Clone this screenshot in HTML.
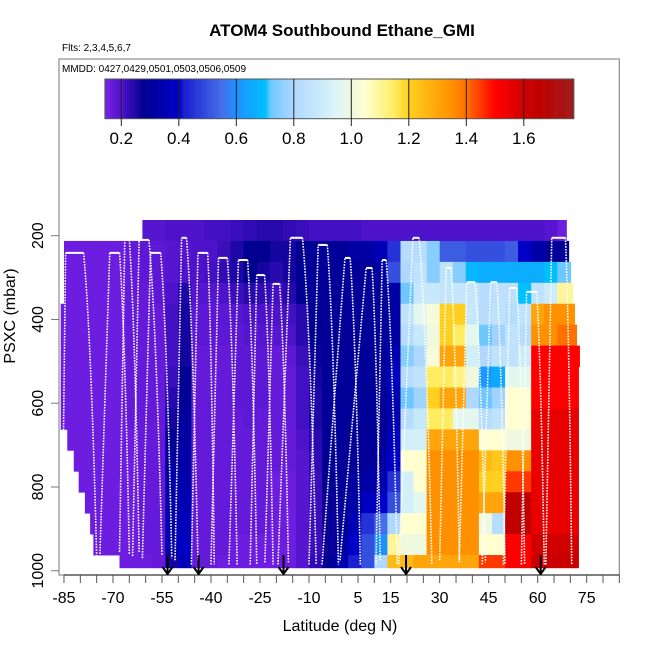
<!DOCTYPE html>
<html><head><meta charset="utf-8"><style>
html,body{margin:0;padding:0;background:#fff;}
svg{display:block;font-family:"Liberation Sans",Arial,sans-serif;}
</style></head><body>
<svg id="chart" width="650" height="650" viewBox="0 0 650 650" xmlns="http://www.w3.org/2000/svg">
<text x="342" y="36" text-anchor="middle" font-size="17" font-weight="bold">ATOM4 Southbound Ethane_GMI</text>
<text x="62" y="51" font-size="10">Flts: 2,3,4,5,6,7</text>
<g id="cells"></g>
<g id="tracks"></g>
<g id="arrows"></g>
<rect x="59" y="59" width="560.3" height="516" fill="none" stroke="#777" stroke-width="1"/>
<text x="62" y="72" font-size="10">MMDD: 0427,0429,0501,0503,0506,0509</text>
<g id="cbar"></g>
<g id="xaxis"></g>
<g id="yaxis"></g>
<text x="340" y="631" text-anchor="middle" font-size="16">Latitude (deg N)</text>
<text transform="translate(15,316) rotate(-90)" text-anchor="middle" font-size="16">PSXC (mbar)</text>
</svg>
<script>
// ---- data ----
const latEdges0 = -86;
const latStep = 4;
const presEdges = [162.5,212.5,262.5,312.5,362.5,412.5,462.5,512.5,562.5,612.5,662.5,712.5,762.5,812.5,862.5,912.5,962.5,993];
const rowStart = [-61,-85,-85,-85,-86,-86,-86,-86,-86,-86,-84,-82,-80.5,-78.6,-77,-76,-68];
const rowEnd = [68.8,69.5,70.1,70.7,71.3,71.9,72.8,72.5,72.5,72.5,72.5,72.5,72.5,72.5,72.5,72.5,72.5];
const r0 = [.16,.16,.16,.16,.16,.16,.19,.19,.2,.2,.2,.21,.21,.22,.23,.24,.24,.23,.22,.21,.21,.21,.21,.2,.2,.2,.2,.2,.2,.2,.2,.2,.2,.2,.2,.2,.2,.19,.16,.16];
const r1 = [.16,.16,.16,.16,.16,.17,.18,.18,.19,.19,.2,.2,.22,.25,.28,.28,.26,.26,.28,.3,.3,.3,.32,.32,.36,.45,.82,.82,.75,.52,.52,.5,.5,.5,.52,.4,.33,.3,.3,.3];
const r2 = [.16,.16,.16,.16,.16,.17,.18,.18,.19,.2,.2,.21,.23,.25,.28,.26,.24,.26,.29,.3,.3,.3,.3,.3,.32,.5,.8,.85,.75,.85,.75,.68,.66,.66,.66,.66,.66,.7,.72,.72];
const r3 = [.16,.16,.16,.16,.16,.17,.17,.18,.2,.25,.19,.19,.2,.22,.24,.23,.21,.24,.28,.3,.3,.3,.3,.3,.3,.32,.72,.88,.88,.86,.87,.87,.82,.84,.84,.7,.85,.9,1.1,1.1];
const r4 = [.16,.16,.16,.16,.16,.17,.17,.17,.21,.26,.18,.18,.18,.19,.2,.2,.2,.21,.24,.28,.3,.3,.3,.3,.3,.32,.85,.97,1.02,1.2,1.2,.88,.82,.85,.82,.85,1.3,1.35,1.35,1.35];
const r5 = [.16,.16,.16,.16,.16,.17,.17,.17,.21,.26,.18,.18,.18,.18,.19,.19,.19,.2,.24,.28,.3,.3,.3,.3,.3,.32,.82,.88,1.0,1.2,1.15,.97,.72,.78,.85,.82,1.35,1.35,1.4,1.4];
const r6 = [.16,.16,.16,.16,.16,.17,.17,.17,.21,.26,.17,.17,.17,.18,.18,.18,.17,.18,.22,.27,.3,.3,.3,.3,.3,.35,.75,.8,1.02,1.3,1.3,.92,.8,.85,.85,.9,1.5,1.5,1.5,1.5];
const r7 = [.16,.16,.16,.16,.16,.17,.17,.17,.22,.29,.17,.17,.17,.18,.18,.18,.17,.17,.21,.26,.3,.3,.3,.3,.3,.38,.82,.85,1.15,1.15,1.12,1.0,.62,.65,.97,.97,1.5,1.5,1.5,1.5];
const r8 = [.16,.16,.16,.16,.16,.17,.17,.17,.24,.3,.17,.17,.17,.18,.18,.18,.17,.17,.21,.25,.3,.3,.3,.3,.3,.35,.72,.78,1.2,1.3,1.3,.8,.72,.78,1.05,1.05,1.5,1.5,1.5,1.5];
const r9 = [.16,.16,.16,.16,.16,.17,.17,.17,.26,.31,.17,.17,.17,.17,.18,.17,.17,.17,.21,.25,.3,.3,.3,.3,.3,.35,.82,.88,1.15,1.15,.97,.97,.82,.85,1.05,1.05,1.55,1.55,1.55,1.55];
const r10 = [.16,.16,.16,.16,.16,.16,.17,.17,.29,.32,.17,.17,.17,.17,.17,.17,.17,.17,.2,.24,.3,.3,.3,.3,.3,.38,.92,.92,1.3,1.3,1.3,1.3,1.05,1.05,1.0,1.0,1.55,1.55,1.55,1.55];
const r11 = [.16,.16,.16,.16,.16,.16,.17,.17,.31,.33,.17,.17,.17,.17,.17,.17,.17,.17,.19,.23,.3,.3,.3,.3,.32,.4,1.05,1.05,1.35,1.35,1.35,1.35,1.25,1.22,1.35,1.35,1.55,1.55,1.55,1.55];
const r12 = [.16,.16,.16,.16,.16,.16,.17,.17,.33,.34,.17,.17,.17,.17,.17,.17,.16,.16,.19,.22,.28,.3,.31,.33,.35,.45,.92,1.05,1.35,1.35,1.35,1.35,1.2,1.2,1.45,1.45,1.55,1.55,1.55,1.55];
const r13 = [.16,.16,.16,.16,.16,.16,.17,.17,.33,.35,.17,.17,.17,.17,.17,.17,.16,.16,.19,.22,.27,.3,.33,.38,.4,.5,.92,.97,1.35,1.35,1.35,1.35,1.3,1.3,1.65,1.65,1.55,1.55,1.55,1.55];
const r14 = [.16,.16,.16,.16,.16,.16,.17,.17,.34,.37,.17,.17,.17,.17,.17,.17,.16,.16,.19,.22,.27,.3,.36,.45,.55,.8,1.05,1.05,1.35,1.35,1.35,1.35,1.0,.82,1.65,1.65,1.55,1.55,1.55,1.55];
const r15 = [.16,.16,.16,.16,.16,.16,.17,.17,.34,.39,.17,.17,.17,.16,.16,.16,.16,.16,.19,.22,.27,.32,.4,.5,.6,1.1,1.0,1.0,1.35,1.35,1.35,1.35,1.05,1.05,1.5,1.5,1.6,1.6,1.6,1.6];
const r16 = [.16,.16,.16,.16,.16,.16,.16,.17,.26,.37,.17,.17,.16,.16,.16,.16,.16,.16,.19,.23,.29,.35,.42,.5,.8,1.25,1.25,1.3,1.3,1.3,1.3,1.3,1.45,1.45,1.5,1.5,1.62,1.62,1.62,1.62];
const gridRows = [r0,r1,r2,r3,r4,r5,r6,r7,r8,r9,r10,r11,r12,r13,r14,r15,r16];

const profUp   = [-85.6,-74,-68,-64,-61,-51,-46,-40,-34.5,-28,-23.5,-19.5,-10,-6,-0.5,10.5,17.5,30,36,43,49.5,55,62.5];
const profTop1 = [-84.5,-71,-66.4,-62,-58.5,-49,-44,-37.7,-31.6,-26,-21,-15.7,-7.2,1,7.5,12.4,21.8,32,38.3,45.6,51.4,56.6,64.3];
const profTop2 = [-79,-68,-65,-59,-55.4,-47.5,-41,-35,-28.8,-23.6,-19,-12,-4.4,2.6,9.3,13.6,23.7,33.5,40.8,47.5,53.6,59.7,68.5];
const profDown = [-75,-65,-62,-55,-52,-44,-39,-32,-26,-21,-16.3,-7.8,-1,5.7,11.8,17,27.6,36,44,50,56,62,70.4];
const profTopP = [241,241,210,210,241,205,241,253,258,294,315,205,222,253,277,258,205,277,311,311,325,334,205];
const profBotP = [965,960,955,965,970,975,985,985,985,985,980,985,985,985,975,985,985,975,980,985,985,985,985];

const arrowLats = [-53.3,-43.8,-17.8,19.7,60.9];

const cbTicks = [0.2,0.4,0.6,0.8,1.0,1.2,1.4,1.6];
const cbTickLabels = ["0.2","0.4","0.6","0.8","1.0","1.2","1.4","1.6"];
const xTickLabelVals = [-85,-70,-55,-40,-25,-10,5,15,30,45,60,75];
const yTickVals = [200,400,600,800,1000];

// ---- scales ----
const NS = "http://www.w3.org/2000/svg";
function xS(lat){ return 586.7 + (lat-75)*3.267; }
function yS(p){ return 235.7 + (p-200)*0.4188; }
function cbX(v){ return 121.3 + (v-0.2)*287.5; }
const stops = [[0.143,[122,34,232]],[0.2,[78,18,202]],[0.28,[0,0,144]],[0.4,[0,0,200]],[0.42,[26,32,208]],[0.55,[70,110,232]],[0.6,[30,144,255]],[0.7,[0,191,255]],[0.72,[110,200,255]],[0.8,[176,216,255]],[0.95,[220,246,248]],[1.0,[240,248,224]],[1.05,[255,255,208]],[1.15,[255,236,96]],[1.2,[255,208,32]],[1.35,[255,144,0]],[1.4,[255,112,0]],[1.5,[255,0,0]],[1.6,[208,0,0]],[1.65,[192,0,0]],[1.775,[160,28,28]]];
function col(v){
  if(v<=stops[0][0]) return "rgb("+stops[0][1].join(",")+")";
  for(let i=1;i<stops.length;i++){
    if(v<=stops[i][0]){
      const a=stops[i-1],b=stops[i],t=(v-a[0])/(b[0]-a[0]);
      const c=a[1].map((q,k)=>Math.round(q+(b[1][k]-q)*t));
      return "rgb("+c.join(",")+")";
    }
  }
  return "rgb("+stops[stops.length-1][1].join(",")+")";
}
function mk(tag,attrs,parent){ const e=document.createElementNS(NS,tag); for(const k in attrs) e.setAttribute(k,attrs[k]); parent.appendChild(e); return e; }

// ---- heatmap ----
const cells=document.getElementById("cells");
gridRows.forEach((row,ri)=>{
  const y0=yS(presEdges[ri]), y1=yS(presEdges[ri+1]);
  row.forEach((v,ci)=>{
    let l0=latEdges0+ci*latStep, l1=l0+latStep;
    l0=Math.max(l0,rowStart[ri]); l1=Math.min(l1,rowEnd[ri]);
    if(l1<=l0) return;
    const r=mk("rect",{x:xS(l0).toFixed(2),y:y0.toFixed(2),width:(xS(l1)-xS(l0)+0.4).toFixed(2),height:(y1-y0+0.4).toFixed(2),fill:col(v)},cells);
    
    
  });
});

// ---- flight tracks ----
const tracks=document.getElementById("tracks");
profUp.forEach((u,i)=>{
  const yt=yS(profTopP[i]), yb=yS(profBotP[i]);
  const a=mk("line",{x1:xS(u),y1:yb,x2:xS(profTop1[i]),y2:yt,stroke:"#fff","stroke-width":1.6,"stroke-dasharray":"1.6 1.2"},tracks);
  
  
  const t=mk("line",{x1:xS(profTop1[i]),y1:yt,x2:xS(profTop2[i]),y2:yt,stroke:"#fff","stroke-width":2},tracks);
  
  
  const mx=xS(profTop2[i])+(xS(profDown[i])-xS(profTop2[i]))*0.55, my=yt+(yb-yt)*0.25;
  const d=mk("path",{d:`M${xS(profTop2[i])},${yt} Q${mx},${my} ${xS(profDown[i])},${yb}`,fill:"none",stroke:"#fff","stroke-width":1.6,"stroke-dasharray":"1.6 1.2"},tracks);
  
  
});

// ---- arrows ----
const arrows=document.getElementById("arrows");
arrowLats.forEach(l=>{
  const x=xS(l);
  const g=mk("g",{},arrows);
  
  
  mk("line",{x1:x,y1:555,x2:x,y2:574,stroke:"#000","stroke-width":2},g);
  mk("polyline",{points:`${x-5},${567} ${x},${574} ${x+5},${567}`,fill:"none",stroke:"#000","stroke-width":2},g);
});

// ---- colorbar ----
const cb=document.getElementById("cbar");
const n=300, v0=0.143, v1=1.774;
for(let i=0;i<n;i++){
  const a=v0+(v1-v0)*i/n, b=v0+(v1-v0)*(i+1)/n;
  const r=mk("rect",{x:cbX(a).toFixed(2),y:79,width:(cbX(b)-cbX(a)+0.3).toFixed(2),height:39.7,fill:col((a+b)/2)},cb);
  
  
}
mk("rect",{x:cbX(v0),y:79,width:cbX(v1)-cbX(v0),height:39.7,fill:"none",stroke:"#555","stroke-width":1},cb);
cbTicks.forEach((v,i)=>{
  const x=cbX(v);
  mk("line",{x1:x,y1:79,x2:x,y2:126,stroke:"#222","stroke-width":1},cb);
  const t=mk("text",{x:x,y:144,"text-anchor":"middle","font-size":17},cb);
  t.textContent=cbTickLabels[i];
  
  
});

// ---- x axis ----
const xa=document.getElementById("xaxis");
mk("line",{x1:xS(-85),y1:575,x2:xS(85),y2:575,stroke:"#000","stroke-width":1},xa);
for(let l=-85;l<=85;l+=5){ mk("line",{x1:xS(l),y1:575,x2:xS(l),y2:583,stroke:"#555","stroke-width":1},xa); }
xTickLabelVals.forEach(l=>{
  const t=mk("text",{x:xS(l),y:603,"text-anchor":"middle","font-size":16},xa);
  t.textContent=String(l);
  
  
});

// ---- y axis ----
const ya=document.getElementById("yaxis");
mk("line",{x1:59,y1:yS(200),x2:59,y2:yS(1000),stroke:"#777","stroke-width":1},ya);
yTickVals.forEach(p=>{
  mk("line",{x1:51,y1:yS(p),x2:59,y2:yS(p),stroke:"#777","stroke-width":1},ya);
  const t=mk("text",{transform:`translate(43,${yS(p)}) rotate(-90)`,"text-anchor":"middle","font-size":16},ya);
  t.textContent=String(p);
  
  
});
</script>
</body></html>
